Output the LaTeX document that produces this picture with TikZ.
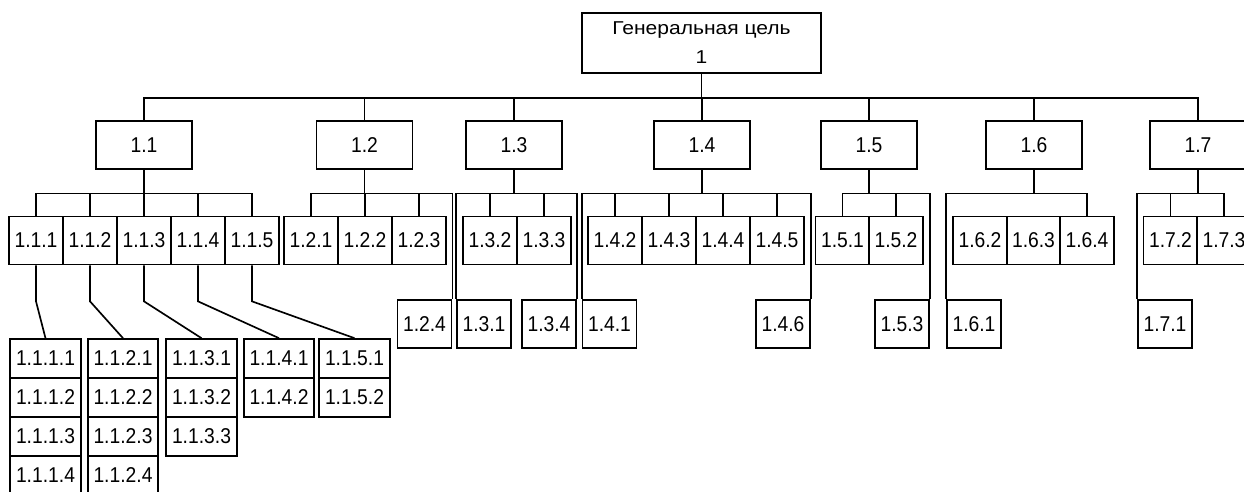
\documentclass[tikz,border=0pt]{standalone}
\usepackage{fontspec}
\setmainfont[FakeStretch=0.9]{Liberation Sans}
\newfontfamily\goalfont[FakeStretch=1.13]{Liberation Sans}
\usepackage{tikz}

\begin{document}
\begin{tikzpicture}[x=0.02cm,y=-0.02cm,
    cell/.style={draw,line width=0.95pt,inner sep=0pt,minimum height=48*\px,
      font=\fontsize{12.2}{14}\selectfont},
    goalbox/.style={cell,minimum width=96*\px},
    subbox/.style={cell,minimum width=54*\px},
    leafbox/.style={cell,minimum width=70.5*\px,minimum height=39*\px},
    link/.style={line width=0.95pt}]
  \def\px{0.02cm}
  \useasboundingbox (0,0) rectangle (1244,491);
  \clip (0,0) rectangle (1244,491);
  % general goal
  \node[cell,minimum width=239*\px,minimum height=60*\px,align=center,
    font=\goalfont\fontsize{10.6}{16.8}\selectfont] (g) at (701.5,42.8) {Генеральная цель\\1};
  % first level: 1.1 ... 1.7
  \foreach \a/\x in {1/144,2/364.5,3/514,4/702,5/869,6/1034,7/1198} {%
    \node[goalbox] (l\a) at (\x,145) {1.\a};
    \draw[link] (g.south) -- ++(0,24.5) -| (l\a.north);
  }
  % second level, upper row (joined boxes)
  \foreach \a/\b/\x in {1/1/36,1/2/90,1/3/144,1/4/198,1/5/252,
      2/1/311,2/2/365,2/3/419, 3/2/490,3/3/544,
      4/2/615,4/3/669,4/4/723,4/5/777, 5/1/842.5,5/2/896,
      6/2/980,6/3/1033.5,6/4/1087, 7/2/1170.5,7/3/1224} {%
    \node[subbox] (n\a\b) at (\x,240.5) {1.\a.\b};
  }
  \foreach \a/\b in {1/1,1/2,1/3,1/4,1/5,2/1,2/2,2/3,3/2,3/3,
      4/2,4/3,4/4,4/5,5/1,5/2,6/4,7/2,7/3} {%
    \draw[link] (l\a.south) -- ++(0,23.5) -| (n\a\b.north);
  }
  % second level, lower row: fed along the box side
  \foreach \a/\b/\x/\c in {2/4/424.5/north east,3/1/484/north west,3/4/549/north east,
      4/1/609.5/north west,4/6/783/north east,5/3/902/north east,
      6/1/974/north west,7/1/1165/north west} {%
    \node[subbox] (n\a\b) at (\x,324) {1.\a.\b};
    \draw[link] (l\a.south) -- ++(0,23.5) -| (n\a\b.\c);
  }
  % third level under 1.1.x: stacked columns
  \foreach \b/\x/\k in {1/45.5/4,2/123/4,3/201.5/3,4/279/2,5/354.5/2} {%
    \foreach \r in {1,...,\k} {%
      \node[leafbox] (n1\b\r) at (\x,319.5+39*\r) {1.1.\b.\r};
    }
    \draw[link] (n1\b.south) -- ++(0,36) -- (n1\b1.north);
  }
\end{tikzpicture}
\end{document}
